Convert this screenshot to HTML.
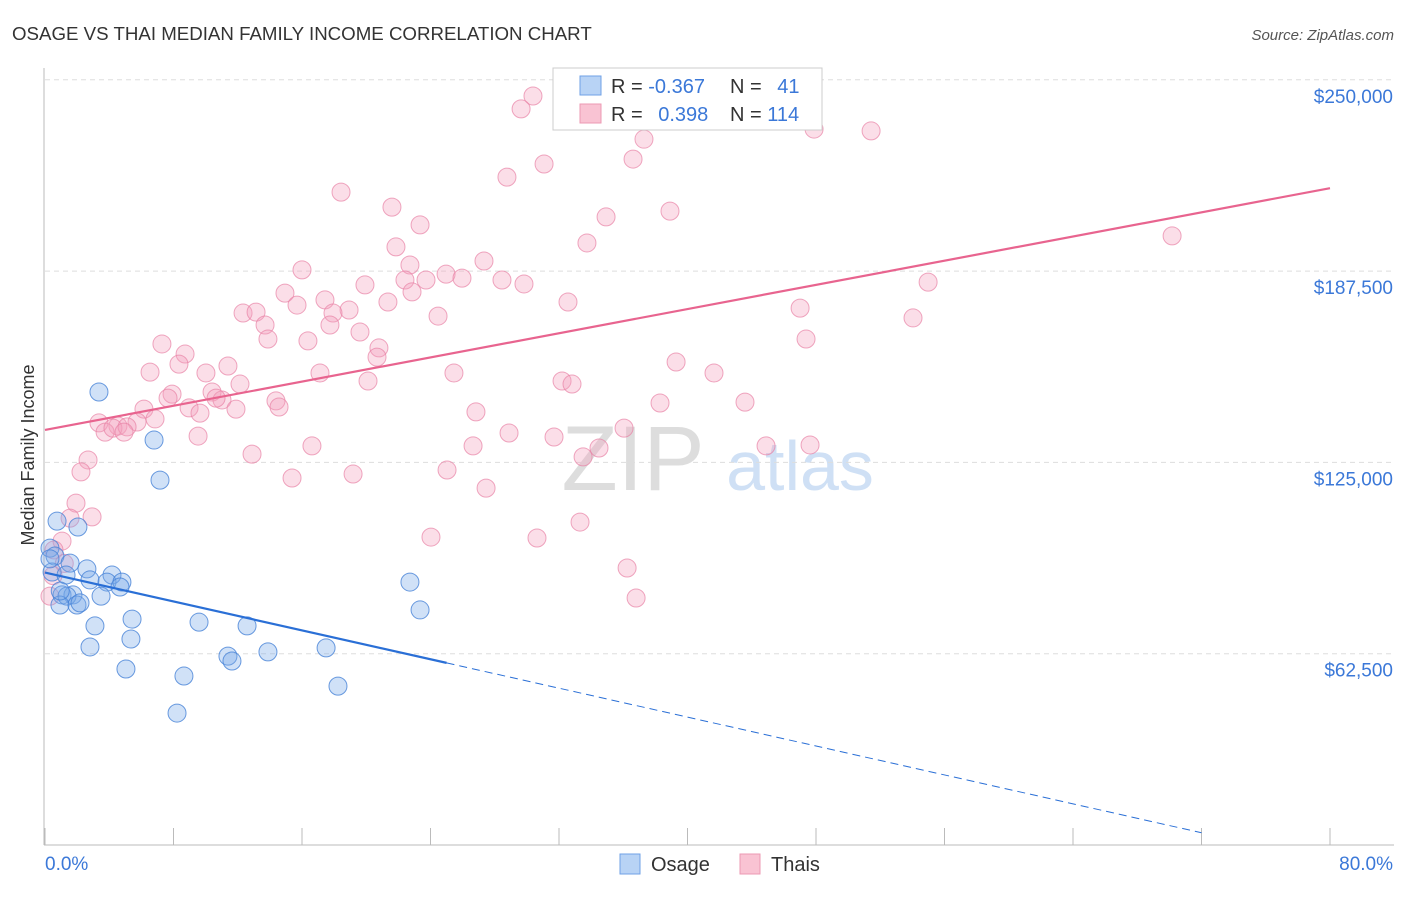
<!DOCTYPE html>
<html><head><meta charset="utf-8"><style>
body{margin:0;background:#fff;font-family:"Liberation Sans",sans-serif;}
svg text{font-family:"Liberation Sans",sans-serif;}
</style></head><body>
<svg id="chart" width="1406" height="892">
<text x="12" y="40" font-size="18.7" fill="#333">OSAGE VS THAI MEDIAN FAMILY INCOME CORRELATION CHART</text>
<text x="1394" y="40" font-size="15" fill="#555" text-anchor="end" font-style="italic">Source: ZipAtlas.com</text>
<text x="633" y="490" font-size="92" fill="#ddd" font-family="Liberation Serif" text-anchor="middle">ZIP</text>
<text x="800" y="490" font-size="70" fill="#cfe0f5" text-anchor="middle">atlas</text>
<text transform="translate(34,455) rotate(-90)" font-size="18" fill="#333" text-anchor="middle">Median Family Income</text>
<g id="grid"></g><g id="marks"></g><g id="lines"></g>
<g>
<rect x="553" y="68" width="269" height="62" fill="#fff" stroke="#ccc"/>
<rect x="580" y="76" width="21" height="19" fill="#b8d3f5" stroke="#6fa0e6"/>
<rect x="580" y="104" width="21" height="19" fill="#f9c3d3" stroke="#ec9ab3"/>
<text x="611" y="93" font-size="20" fill="#333">R = <tspan fill="#3b78d8">-0.367</tspan></text>
<text x="730" y="93" font-size="20" fill="#333">N = <tspan fill="#3b78d8" dx="10">41</tspan></text>
<text x="611" y="121" font-size="20" fill="#333">R = <tspan fill="#3b78d8" dx="10">0.398</tspan></text>
<text x="730" y="121" font-size="20" fill="#333">N = <tspan fill="#3b78d8">114</tspan></text>
</g>
<g>
<rect x="620" y="854" width="20" height="20" fill="#b8d3f5" stroke="#6fa0e6"/>
<text x="651" y="871" font-size="20" fill="#333">Osage</text>
<rect x="740" y="854" width="20" height="20" fill="#f9c3d3" stroke="#ec9ab3"/>
<text x="771" y="871" font-size="20" fill="#333">Thais</text>
</g>
</svg>
<script>
const yTicks=[62500,125000,187500,250000];
const yTickLabels=["$62,500","$125,000","$187,500","$250,000"];
const xTickLabels=["0.0%","80.0%"];
const osageX=[3.36,6.79,7.16,0.75,2.05,0.31,0.62,1.56,2.61,0.44,1.31,4.17,2.80,3.86,4.79,4.67,1.06,1.74,3.49,1.37,0.93,1.99,2.18,3.11,5.42,9.59,12.58,5.35,2.80,11.39,11.64,13.88,17.50,5.04,8.65,18.24,8.22,22.72,23.35,0.95,0.31];
const osageY=[148.0,132.3,119.2,105.8,103.9,97.0,94.4,92.1,90.2,89.2,88.2,88.2,86.6,85.9,85.9,84.3,81.7,81.7,81.3,81.3,78.4,78.4,79.1,71.6,73.8,72.8,71.6,67.3,64.7,61.7,60.1,63.1,64.4,57.5,55.2,51.9,43.1,85.9,76.8,83.0,93.5];
const thaiX=[30.38,29.64,31.07,28.76,36.61,37.29,18.43,21.60,23.35,38.91,34.93,33.74,21.85,47.88,51.43,70.17,16.00,22.72,27.33,22.41,24.97,23.72,25.96,28.45,29.82,19.92,22.85,14.94,17.43,15.69,21.35,18.93,17.93,12.33,13.14,32.56,24.47,54.98,54.04,47.01,13.70,17.74,19.61,13.88,16.37,47.38,7.28,8.72,20.79,20.67,39.29,8.34,6.54,11.39,10.02,17.12,25.46,41.65,32.19,32.81,20.11,12.14,7.91,10.40,7.66,14.38,11.02,10.65,43.58,38.29,6.16,8.97,9.65,11.89,14.57,26.83,3.36,6.85,4.54,5.73,3.74,4.23,5.11,4.92,9.53,28.89,31.69,36.05,44.89,47.63,16.62,26.65,34.49,12.89,33.50,2.68,2.24,15.38,19.18,25.03,27.46,1.93,1.56,2.93,33.31,24.03,30.63,1.06,0.56,36.24,36.80,0.31,0.5,1.2];
const thaiY=[244.7,240.5,222.5,218.2,224.1,230.6,213.3,208.4,202.6,207.1,205.2,196.7,195.4,233.9,233.3,199.0,187.9,189.5,190.8,184.6,186.5,184.6,185.2,184.6,183.3,183.0,180.7,180.3,178.1,176.4,177.4,174.8,173.8,173.8,174.1,177.4,172.8,183.9,172.2,175.4,169.9,169.9,167.6,165.3,164.7,165.3,163.7,160.4,162.4,159.4,157.8,157.1,154.5,156.5,154.2,154.2,154.2,154.2,151.6,150.6,151.6,150.6,147.3,148.0,146.0,145.1,145.4,146.0,144.7,144.4,142.4,142.8,141.1,142.4,143.1,141.5,137.9,139.2,136.9,138.2,134.9,136.2,136.6,134.9,133.6,134.6,133.3,136.2,130.4,130.7,130.4,130.4,129.7,127.7,126.8,125.8,121.9,119.9,121.2,122.5,116.6,111.7,106.8,107.2,105.5,100.6,100.3,99.3,96.4,90.5,80.7,81.3,88.0,92.0];
const osageTrend=[0,89.0,25,59.5,72,4.0];
const thaiTrend=[0,135.6,80,214.6];
const sx=v=>45+v*1285/80;
const sy=v=>845-v*1000*191.3/62500;
const NS="http://www.w3.org/2000/svg";
function mk(t,a,p){const e=document.createElementNS(NS,t);for(const k in a)e.setAttribute(k,a[k]);p.appendChild(e);return e;}
const grid=document.getElementById('grid'),marks=document.getElementById('marks'),lines=document.getElementById('lines');
yTicks.forEach((t,i)=>{
 const y=sy(t/1000);
 const l=mk('line',{x1:45,x2:1394,y1:y,y2:y,stroke:'#ddd','stroke-dasharray':'5,4'},grid);
 
 
 const tx=mk('text',{x:1393,y:y+23,'font-size':19,fill:'#3b78d8','text-anchor':'end'},grid);
 tx.textContent=yTickLabels[i];
 
 
});
mk('line',{x1:44,x2:44,y1:68,y2:845,stroke:'#bbb'},grid);
mk('line',{x1:44,x2:1394,y1:845,y2:845,stroke:'#bbb'},grid);
for(let i=0;i<=10;i++){const x=sx(i*8);const t=mk('line',{x1:x,x2:x,y1:828,y2:845,stroke:'#bbb'},grid);
 
 }
xTickLabels.forEach((s,i)=>{const t=mk('text',{x:i?1393:45,y:870,'font-size':19,fill:'#3b78d8','text-anchor':i?'end':'start'},grid);t.textContent=s;
 
 });
thaiX.forEach((x,i)=>{const c=mk('circle',{cx:sx(x),cy:sy(thaiY[i]),r:9,fill:'rgba(244,160,188,0.35)',stroke:'rgba(232,130,165,0.7)','stroke-width':1},marks);
 
 });
osageX.forEach((x,i)=>{const c=mk('circle',{cx:sx(x),cy:sy(osageY[i]),r:9,fill:'rgba(120,168,232,0.35)',stroke:'rgba(70,130,215,0.8)','stroke-width':1},marks);
 
 });
const tp=mk('line',{x1:sx(thaiTrend[0]),y1:sy(thaiTrend[1]),x2:sx(thaiTrend[2]),y2:sy(thaiTrend[3]),stroke:'#e8648f','stroke-width':2.2},lines);


const ob=mk('line',{x1:sx(osageTrend[0]),y1:sy(osageTrend[1]),x2:sx(osageTrend[2]),y2:sy(osageTrend[3]),stroke:'#2a6fd6','stroke-width':2.2},lines);


const od=mk('line',{x1:sx(osageTrend[2]),y1:sy(osageTrend[3]),x2:sx(osageTrend[4]),y2:sy(osageTrend[5]),stroke:'#2a6fd6','stroke-width':1,'stroke-dasharray':'8,5'},lines);


</script>
</body></html>
